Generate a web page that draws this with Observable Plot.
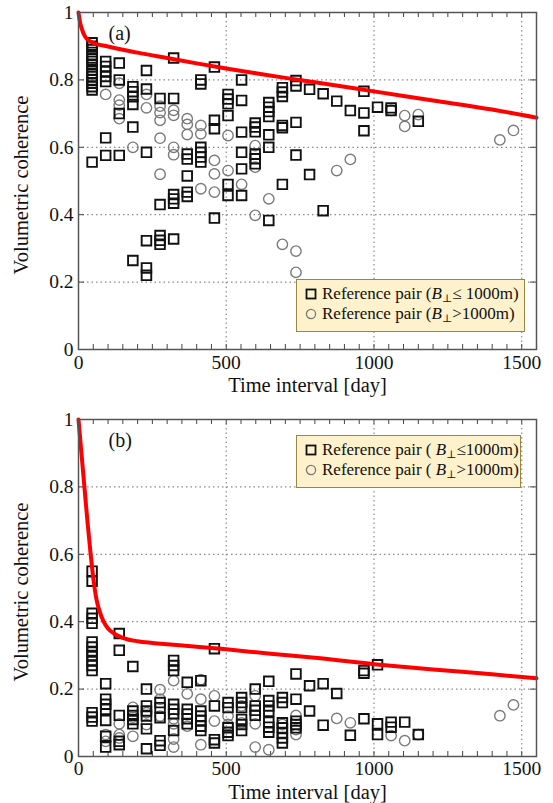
<!DOCTYPE html>
<html>
<head>
<meta charset="utf-8">
<script src="https://cdn.jsdelivr.net/npm/d3@7"></script>
<script src="https://cdn.jsdelivr.net/npm/@observablehq/plot@0.6"></script>
<style>
  html, body { margin: 0; padding: 0; background: #fff; }
  #wrap { position: relative; width: 553px; height: 803px; font-family: "Liberation Serif", "DejaVu Serif", serif; }
  #wrap svg { display: block; }
  .legend { position: absolute; box-sizing: border-box; background: #fdf2cc; border: 1.5px solid #9a8640;
            font-size: 17px; color: #111; padding: 4px 0 0 7px; line-height: 20px; }
  .legend .row { white-space: nowrap; display: flex; align-items: center; }
  .legend .row svg { margin-right: 4px; }
  .legend sub { font-size: 11px; vertical-align: -3px; line-height: 0; }
</style>
</head>
<body>
<div id="wrap"></div>
<script>
// ---------- data (day interval, volumetric coherence) ----------
const xTicks = [0, 500, 1000, 1500];
const yTicks = [0, 0.2, 0.4, 0.6, 0.8, 1];
const xGrid = [500, 1000, 1500];
const yGrid = [0.2, 0.4, 0.6, 0.8];
const minorX = d3.range(0, 1551, 50);

// Panel (a) – reference pair B⊥ ≤ 1000 m (squares)
const aSquares = [
  [46,  [0.91, 0.90, 0.89, 0.875, 0.865, 0.855, 0.845, 0.83, 0.82, 0.81, 0.80, 0.79, 0.78, 0.77, 0.556]],
  [92,  [0.855, 0.84, 0.825, 0.81, 0.795, 0.628, 0.576]],
  [138, [0.85, 0.80, 0.70, 0.576]],
  [184, [0.78, 0.765, 0.75, 0.727, 0.66, 0.264]],
  [230, [0.828, 0.773, 0.585, 0.323, 0.242, 0.22]],
  [276, [0.745, 0.43, 0.338, 0.324, 0.312]],
  [322, [0.865, 0.745, 0.46, 0.447, 0.434, 0.328]],
  [368, [0.58, 0.565, 0.515, 0.467, 0.454]],
  [414, [0.80, 0.788, 0.60, 0.585, 0.571, 0.556]],
  [460, [0.838, 0.68, 0.655, 0.39]],
  [506, [0.757, 0.743, 0.729, 0.694, 0.49, 0.457]],
  [552, [0.80, 0.739, 0.645, 0.585, 0.536, 0.457]],
  [598, [0.672, 0.66, 0.646, 0.58, 0.566, 0.551]],
  [644, [0.733, 0.719, 0.706, 0.691, 0.637, 0.60, 0.383]],
  [690, [0.777, 0.764, 0.751, 0.665, 0.658, 0.49]],
  [736, [0.798, 0.782, 0.674, 0.577]],
  [782, [0.772, 0.519]],
  [828, [0.759, 0.412]],
  [874, [0.737]],
  [920, [0.709]],
  [966, [0.766, 0.702, 0.649]],
  [1012, [0.719]],
  [1058, [0.717, 0.709]],
  [1150, [0.677]]
];
// Panel (a) – reference pair B⊥ > 1000 m (circles)
const aCircles = [
  [92,  [0.757]],
  [138, [0.79, 0.74, 0.725, 0.685]],
  [184, [0.60]],
  [230, [0.757, 0.717]],
  [276, [0.722, 0.703, 0.68, 0.627, 0.52]],
  [322, [0.71, 0.695, 0.60, 0.578]],
  [368, [0.685, 0.668, 0.638]],
  [414, [0.665, 0.64, 0.477]],
  [460, [0.561, 0.521, 0.467]],
  [506, [0.635, 0.531]],
  [552, [0.49]],
  [598, [0.605, 0.541, 0.398]],
  [644, [0.447]],
  [690, [0.312]],
  [736, [0.292, 0.229]],
  [874, [0.531]],
  [920, [0.564]],
  [1058, [0.71]],
  [1104, [0.694, 0.662]],
  [1150, [0.697]],
  [1426, [0.622]],
  [1472, [0.65]]
];
// Panel (a) – red model curve
const aCurveDay = [0, 5, 10, 20, 30, 45, 100, 200, 300, 400, 500, 600, 700, 800, 1000, 1200, 1400, 1550];
const aCurveCoh = [1.0, 0.972, 0.955, 0.932, 0.92, 0.912, 0.899, 0.881, 0.865, 0.849, 0.834, 0.82, 0.806, 0.793, 0.766, 0.739, 0.712, 0.688];

// Panel (b) – squares
const bSquares = [
  [46,  [0.55, 0.52, 0.425, 0.41, 0.395, 0.34, 0.325, 0.31, 0.30, 0.285, 0.27, 0.255, 0.13, 0.117, 0.105]],
  [92,  [0.216, 0.17, 0.155, 0.14, 0.107, 0.06, 0.028]],
  [138, [0.365, 0.315, 0.122, 0.045, 0.035]],
  [184, [0.267, 0.135, 0.122, 0.11, 0.097]],
  [230, [0.20, 0.15, 0.135, 0.12, 0.082, 0.023]],
  [276, [0.16, 0.145, 0.115, 0.047, 0.033]],
  [322, [0.285, 0.27, 0.255, 0.155, 0.14, 0.127, 0.077]],
  [368, [0.22, 0.14, 0.126, 0.112, 0.097]],
  [414, [0.225, 0.135, 0.12, 0.107, 0.09, 0.077]],
  [460, [0.32, 0.15, 0.05, 0.04]],
  [506, [0.16, 0.145, 0.085, 0.072, 0.062]],
  [552, [0.175, 0.16, 0.145, 0.11, 0.095, 0.077]],
  [598, [0.20, 0.15, 0.137, 0.122]],
  [644, [0.223, 0.166, 0.15, 0.134, 0.102, 0.087, 0.072]],
  [690, [0.175, 0.16, 0.10, 0.085, 0.07, 0.055, 0.04]],
  [736, [0.245, 0.17, 0.105, 0.095, 0.085]],
  [782, [0.21, 0.135]],
  [828, [0.216, 0.093]],
  [874, [0.187]],
  [920, [0.063]],
  [966, [0.255, 0.247, 0.112]],
  [1012, [0.272, 0.097, 0.065]],
  [1058, [0.102, 0.087]],
  [1104, [0.102]],
  [1150, [0.065]]
];
// Panel (b) – circles
const bCircles = [
  [92,  [0.065, 0.045]],
  [138, [0.097, 0.065, 0.055]],
  [184, [0.146, 0.117, 0.06]],
  [230, [0.13, 0.095]],
  [276, [0.198, 0.17, 0.12]],
  [322, [0.225, 0.112, 0.097, 0.052, 0.028]],
  [368, [0.186, 0.09]],
  [414, [0.228, 0.17, 0.035]],
  [460, [0.18, 0.105]],
  [506, [0.12, 0.095]],
  [552, [0.15, 0.10]],
  [598, [0.18, 0.097, 0.028]],
  [644, [0.02]],
  [690, [0.095]],
  [736, [0.122, 0.08, 0.065]],
  [874, [0.113]],
  [920, [0.10]],
  [1058, [0.062]],
  [1104, [0.047]],
  [1150, [0.065]],
  [1426, [0.121]],
  [1472, [0.153]]
];
// Panel (b) – red model curve
const bCurveDay = [0, 10, 20, 30, 40, 50, 60, 70, 85, 100, 120, 150, 200, 250, 300, 400, 500, 650, 800, 1000, 1200, 1400, 1550];
const bCurveCoh = [1.0, 0.90, 0.80, 0.70, 0.61, 0.53, 0.47, 0.435, 0.40, 0.38, 0.365, 0.352, 0.342, 0.337, 0.333, 0.326, 0.318, 0.305, 0.293, 0.274, 0.258, 0.244, 0.232];

const legendA = ["Reference pair (", "≤ 1000m)", "Reference pair (", ">1000m)"];
const legendB = ["Reference pair ( ", "≤1000m)", "Reference pair ( ", ">1000m)"];

// ---------- helpers ----------
const flat = rows => rows.flatMap(([day, vals]) => vals.map(v => ({day, coh: v})));
const zipCurve = (ds, cs) => ds.map((d, i) => ({day: d, coh: cs[i]}));

const W = 553, ML = 78, MR = 17, PH = 337;
const PW = W - ML - MR;

function panel({squares, circles, curve, tag, height, marginTop, xLabelDy, xTickPad}) {
  const marginBottom = height - marginTop - PH;
  return Plot.plot({
    width: W, height, marginLeft: ML, marginRight: MR, marginTop, marginBottom,
    x: {domain: [0, 1550]},
    y: {domain: [0, 1]},
    style: {fontFamily: "Liberation Serif, serif", fontSize: "19.5px", color: "#111", background: "white", overflow: "visible"},
    marks: [
      Plot.ruleX(xGrid, {stroke: "#8a8a8a", strokeWidth: 1.2, strokeDasharray: "1.5,3"}),
      Plot.ruleY(yGrid, {stroke: "#8a8a8a", strokeWidth: 1.2, strokeDasharray: "1.5,3"}),
      Plot.ruleX(minorX, {insetTop: PH - 5, stroke: "#444", strokeWidth: 1}),
      Plot.ruleX(minorX, {insetBottom: PH - 5, stroke: "#444", strokeWidth: 1}),
      Plot.ruleY(yTicks, {insetRight: PW - 6, stroke: "#444", strokeWidth: 1}),
      Plot.ruleY(yTicks, {insetLeft: PW - 6, stroke: "#444", strokeWidth: 1}),
      Plot.axisX({ticks: xTicks, tickSize: 0, tickPadding: xTickPad, label: null, tickFormat: d => String(d)}),
      Plot.axisY({ticks: yTicks, tickSize: 0, tickPadding: 5, label: null, tickFormat: d => String(d)}),
      Plot.dot(flat(circles), {x: "day", y: "coh", r: 5.2, stroke: "#7a7a7a", strokeWidth: 1.4, fill: "none"}),
      Plot.dot(flat(squares), {x: "day", y: "coh", symbol: "square", r: 5.4, stroke: "#111", strokeWidth: 1.9, fill: "none"}),
      Plot.line(curve, {x: "day", y: "coh", stroke: "#ff0000", strokeWidth: 4, curve: "monotone-x"}),
      Plot.frame({stroke: "#555", strokeWidth: 1.5}),
      Plot.text([tag], {frameAnchor: "top-left", textAnchor: "start", lineAnchor: "middle", dx: 30, dy: 21, fontSize: 20}),
      Plot.text(["Time interval [day]"], {frameAnchor: "bottom", textAnchor: "middle", lineAnchor: "middle", dy: xLabelDy, fontSize: 20.5}),
      Plot.text(["Volumetric coherence"], {frameAnchor: "left", rotate: -90, textAnchor: "middle", lineAnchor: "middle", dx: -57, dy: 4, fontSize: 20.5})
    ]
  });
}

const wrap = document.getElementById("wrap");
wrap.appendChild(panel({squares: aSquares, circles: aCircles, curve: zipCurve(aCurveDay, aCurveCoh), tag: "(a)", height: 405, marginTop: 12, xLabelDy: 36, xTickPad: 6}));
wrap.appendChild(panel({squares: bSquares, circles: bCircles, curve: zipCurve(bCurveDay, bCurveCoh), tag: "(b)", height: 398, marginTop: 14, xLabelDy: 36, xTickPad: 5}));

function legend(labels, left, top, w, h) {
  const div = document.createElement("div");
  div.className = "legend";
  Object.assign(div.style, {left: left + "px", top: top + "px", width: w + "px", height: h + "px"});
  const sq = `<svg width="14" height="14"><rect x="2.5" y="2.5" width="9" height="9" fill="none" stroke="#111" stroke-width="1.8"/></svg>`;
  const ci = `<svg width="14" height="14"><circle cx="7" cy="7" r="4.6" fill="none" stroke="#7a7a7a" stroke-width="1.3"/></svg>`;
  div.innerHTML =
    `<div class="row">${sq}<span>${labels[0]}<i>B</i><sub>⊥</sub>${labels[1]}</span></div>` +
    `<div class="row">${ci}<span>${labels[2]}<i>B</i><sub>⊥</sub>${labels[3]}</span></div>`;
  wrap.appendChild(div);
}
legend(legendA, 296, 279, 229, 53);
legend(legendB, 296, 435, 225, 53);
</script>
</body>
</html>
